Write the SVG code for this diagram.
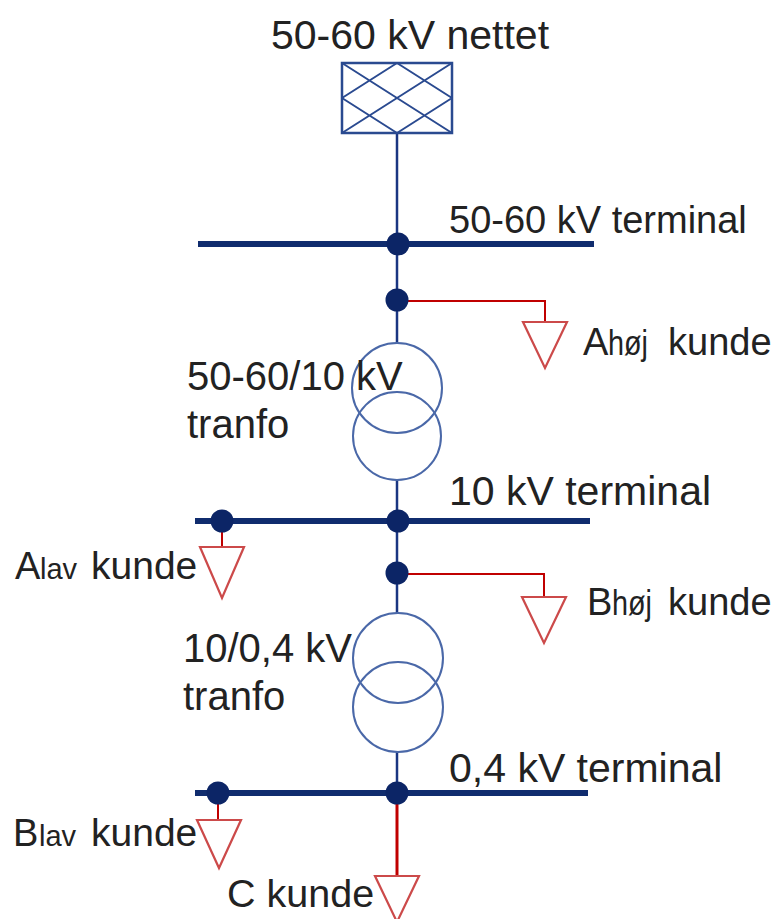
<svg xmlns="http://www.w3.org/2000/svg" width="776" height="919" viewBox="0 0 776 919">
<style>
.t{font-family:"Liberation Sans",Arial,sans-serif;font-size:38px;fill:#222}
.bus{stroke:#102c6e;stroke-width:6;fill:none}
.wire{stroke:#1a3682;stroke-width:2.5;fill:none}
.red{stroke:#c00000;stroke-width:2;fill:none}
.dot{fill:#0c2566}
.load{fill:none;stroke:#cc4a4a;stroke-width:2.2;stroke-linejoin:miter}
.coil{fill:none;stroke:#4a68a8;stroke-width:2}
.grid{fill:none;stroke:#2a4a90;stroke-width:2.5}
</style>
<rect width="776" height="919" fill="#fff"/>
<g id="connectors">
<line class="wire" x1="397" y1="133" x2="397" y2="343"/>
<line class="wire" x1="397" y1="480" x2="397" y2="613"/>
<line class="wire" x1="397" y1="752" x2="397" y2="793"/>
<polyline class="red" points="397,301 545,301 545,322"/>
<polyline class="red" points="397,574 544,574 544,597"/>
<line class="red" x1="222" y1="521" x2="222" y2="547"/>
<line class="red" x1="218" y1="793" x2="218" y2="820"/>
<line class="red" x1="397" y1="793" x2="397" y2="876" style="stroke-width:3"/>
</g>
<g id="grid">
<rect class="grid" x="342" y="63" width="110" height="70"/>
<path class="grid" d="M342,63L452,133M342,98L397,133M397,63L452,98M452,63L342,133M397,63L342,98M452,98L397,133" style="stroke-width:2"/>
<text class="t" x="410" y="49" text-anchor="middle" style="font-size:41px">50-60 kV nettet</text>
</g>
<g id="bus1">
<line class="bus" x1="198" y1="244" x2="594" y2="244"/>
<circle class="dot" cx="398" cy="244" r="11.5"/>
<text class="t" x="449" y="233">50-60 kV terminal</text>
</g>
<g id="junction1"><circle class="dot" cx="397" cy="300" r="11.5"/></g>
<g id="load-ahoj">
<polygon class="load" points="523,322 567,322 545,368"/>
<text class="t" x="583" y="355">A</text>
<g transform="translate(608,355) scale(0.8,1)"><text class="t" x="0" y="0" style="font-size:36px">høj</text></g>
<text class="t" x="668" y="355">kunde</text>
</g>
<g id="trafo1">
<circle class="coil" cx="397" cy="388" r="45"/>
<circle class="coil" cx="397" cy="436" r="44"/>
<text class="t" x="187" y="390" style="font-size:40px">50-60/10 kV</text>
<text class="t" x="187" y="438" style="font-size:40px">tranfo</text>
</g>
<g id="bus2">
<line class="bus" x1="195" y1="521" x2="590" y2="521"/>
<circle class="dot" cx="222" cy="521" r="11.5"/>
<circle class="dot" cx="398" cy="521" r="11.5"/>
<text class="t" x="449" y="505" style="font-size:41px">10 kV terminal</text>
</g>
<g id="load-alav">
<polygon class="load" points="200,547 244,547 222,598"/>
<text class="t" x="15" y="579">A</text>
<text class="t" x="40" y="579" style="font-size:29px">lav</text>
<text class="t" x="91" y="579" style="font-size:39px">kunde</text>
</g>
<g id="junction2"><circle class="dot" cx="397" cy="573" r="11.5"/></g>
<g id="load-bhoj">
<polygon class="load" points="522,597 566,597 544,643"/>
<text class="t" x="587" y="615">B</text>
<g transform="translate(612,615) scale(0.8,1)"><text class="t" x="0" y="0" style="font-size:36px">høj</text></g>
<text class="t" x="668" y="615">kunde</text>
</g>
<g id="trafo2">
<circle class="coil" cx="398" cy="658" r="45"/>
<circle class="coil" cx="398" cy="707" r="45"/>
<text class="t" x="183" y="662" style="font-size:40px">10/0,4 kV</text>
<text class="t" x="183" y="710" style="font-size:40px">tranfo</text>
</g>
<g id="bus3">
<line class="bus" x1="195" y1="793" x2="588" y2="793"/>
<circle class="dot" cx="218" cy="793" r="11.5"/>
<circle class="dot" cx="397" cy="793" r="11.5"/>
<text class="t" x="449" y="782" style="font-size:41px">0,4 kV terminal</text>
</g>
<g id="load-blav">
<polygon class="load" points="197,820 241,820 219,868"/>
<text class="t" x="13" y="846">B</text>
<text class="t" x="39" y="846" style="font-size:29px">lav</text>
<text class="t" x="91" y="846" style="font-size:39px">kunde</text>
</g>
<g id="load-c">
<polygon class="load" points="375,876 419,876 397,922"/>
<text class="t" x="227" y="907" style="font-size:39.5px">C kunde</text>
</g>
</svg>
